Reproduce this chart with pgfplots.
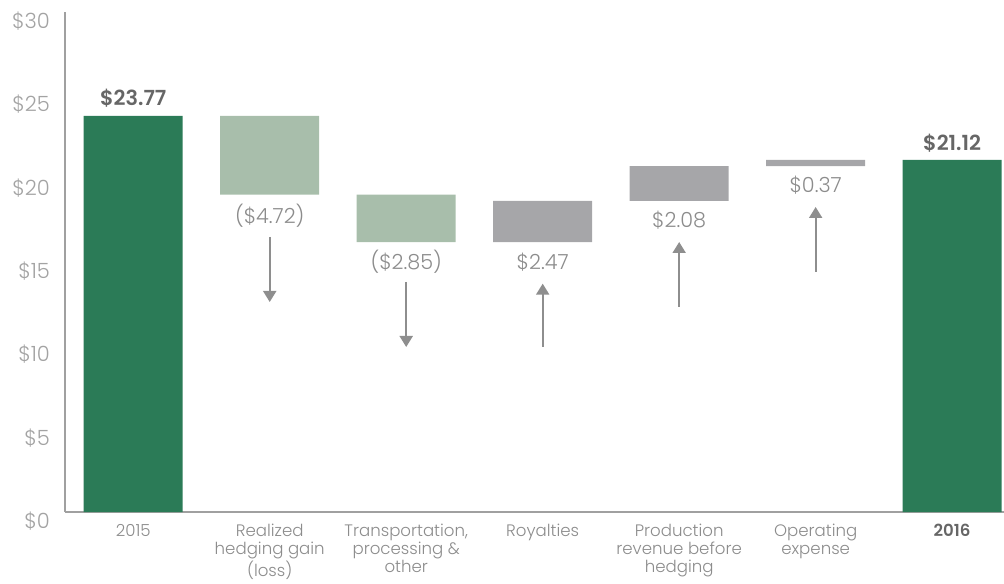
\documentclass[border=0pt]{standalone}
\usepackage{fontspec}
\setmainfont{Poppins}[UprightFont=* Light, BoldFont=* SemiBold]
\usepackage{pgfplots}
\usepackage{pgfplotstable}
\pgfplotsset{compat=1.18}
\usetikzlibrary{arrows.meta}
\definecolor{dkgreen}{HTML}{2B7B57}
\definecolor{sage}{HTML}{A8BEAB}
\definecolor{barg}{HTML}{A6A6A9}
\definecolor{txtg}{HTML}{A3A3A3}
\definecolor{lblg}{HTML}{8C8C8C}
\definecolor{boldg}{HTML}{666666}
\definecolor{arrg}{HTML}{8E8E8E}
\definecolor{axg}{HTML}{A0A0A0}

\pgfplotstableread{
x base dark sage gray
0 0     23.77 0    0
1 19.05 0     4.72 0
2 16.20 0     2.85 0
3 16.20 0     0    2.47
4 18.67 0     0    2.08
5 20.75 0     0    0.37
6 0     21.12 0    0
}\wf

\pgfplotstableread{
x y v
1 16.5 -3.9
2 13.8 -3.9
3 9.9 3.8
4 12.3 3.9
5 14.4 3.9
}\arr

\begin{document}
\begin{tikzpicture}
\pgfplotsset{common/.style={
  scale only axis, width=469.5pt, height=250pt,
  xmin=-0.5, xmax=6.38, ymin=0, ymax=30, clip=false}}
\begin{axis}[common,
  ybar stacked, bar width=49.5pt,
  axis x line*=bottom, axis y line*=left,
  axis line style={axg, line width=0.8pt},
  major tick length=0pt,
  ytick={0,5,...,30},
  yticklabels={\$0,\$5,\$10,\$15,\$20,\$25,\$30},
  yticklabel style={font=\fontsize{10.5}{11}\selectfont, text=txtg, yshift=-4.5pt, xshift=-4pt},
  xtick={0,...,6},
  xticklabels={2015,{Realized\\hedging gain\\(loss)},{Transportation,\\processing \&\\other},Royalties,{Production\\revenue before\\hedging},{Operating\\expense},{\textcolor{boldg}{\bfseries 2016}}},
  xticklabel style={align=center, font=\fontsize{8.3}{9}\selectfont, text=lblg, yshift=-2.5pt},
]
\addplot[draw=none, fill=none] table[x=x, y=base] {\wf};
\addplot[draw=none, fill=dkgreen] table[x=x, y=dark] {\wf};
\addplot[draw=none, fill=sage] table[x=x, y=sage] {\wf};
\addplot[draw=none, fill=barg] table[x=x, y=gray] {\wf};
\coordinate (BL) at (rel axis cs:0,0);
\coordinate (TR) at (rel axis cs:1,1);
\end{axis}
\begin{axis}[common, axis lines=none]
\addplot[arrg, line width=1pt, -{Triangle[width=6.5pt,length=5.5pt]},
  quiver={u=0, v=\thisrow{v}}] table[x=x, y=y] {\arr};
\node[text=boldg, font=\fontsize{10.4}{12}\selectfont\bfseries] at (axis cs:0,24.85) {\$23.77};
\node[text=boldg, font=\fontsize{10.4}{12}\selectfont\bfseries] at (axis cs:6,22.1) {\$21.12};
\node[text=lblg, font=\fontsize{10.4}{12}\selectfont] at (axis cs:1,17.8) {(\$4.72)};
\node[text=lblg, font=\fontsize{10.4}{12}\selectfont] at (axis cs:2,15.0) {(\$2.85)};
\node[text=lblg, font=\fontsize{10.4}{12}\selectfont] at (axis cs:3,15.0) {\$2.47};
\node[text=lblg, font=\fontsize{10.4}{12}\selectfont] at (axis cs:4,17.5) {\$2.08};
\node[text=lblg, font=\fontsize{10.4}{12}\selectfont] at (axis cs:5,19.6) {\$0.37};
\end{axis}
\pgfresetboundingbox
\path ([xshift=-32.5pt,yshift=-35.5pt]BL) rectangle ([yshift=6pt]TR);
\end{tikzpicture}
\end{document}
